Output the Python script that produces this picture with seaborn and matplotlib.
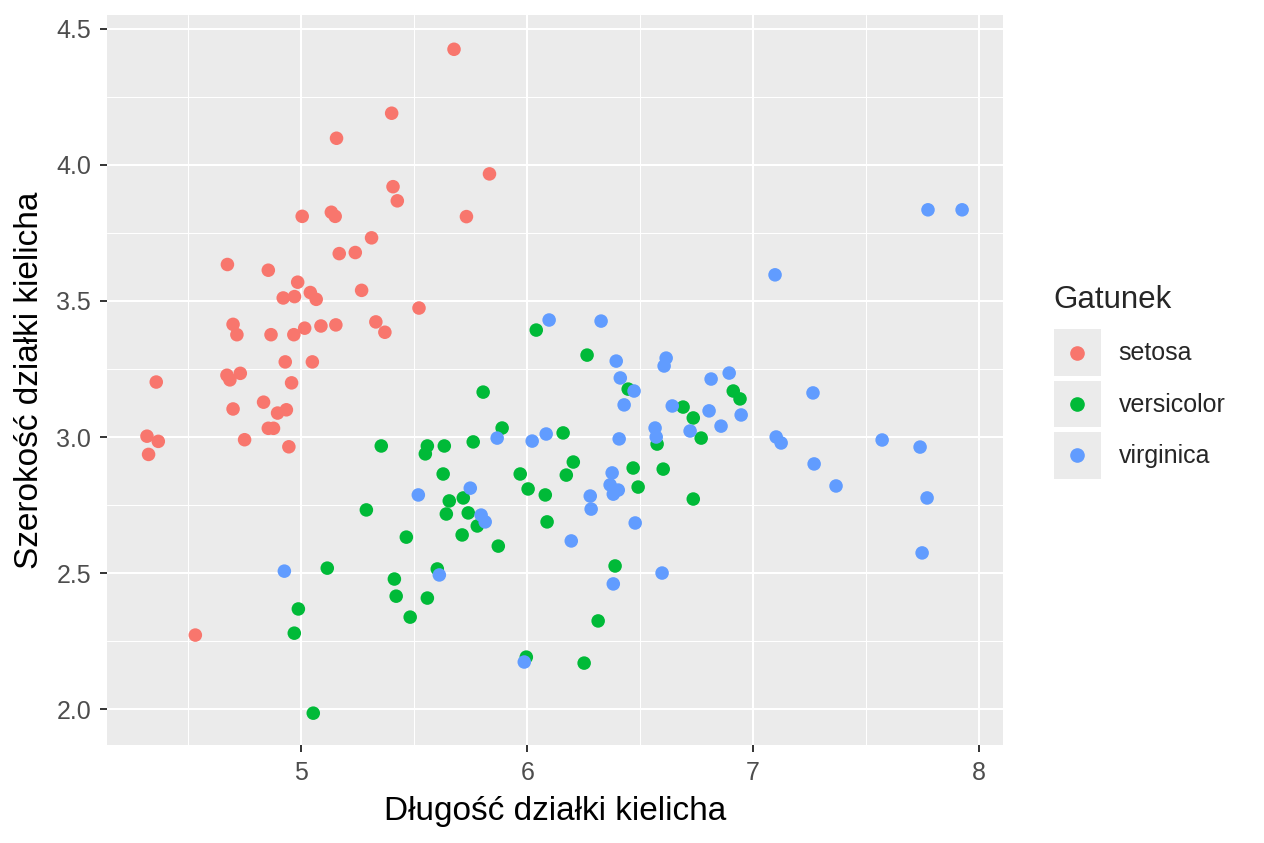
import numpy as np
import pandas as pd
import matplotlib
matplotlib.use("Agg")
import matplotlib.pyplot as plt
import seaborn as sns
from matplotlib.lines import Line2D
from matplotlib.patches import Rectangle
from matplotlib.legend_handler import HandlerBase
from matplotlib.ticker import MultipleLocator

# Values (jittered iris sepal data)
setosa_x = [5.676, 5.400, 5.156, 5.833, 5.406, 5.425, 5.004, 5.133, 5.150, 5.731,
            5.311, 5.168, 5.239, 4.673, 4.854, 4.984, 5.267, 4.920, 4.970, 5.040,
            5.066, 5.521, 4.698, 4.715, 4.866, 4.967, 5.015, 5.087, 5.153, 5.330,
            5.370, 4.929, 5.049, 4.358, 4.671, 4.730, 4.684, 4.957, 4.698, 4.833,
            4.895, 4.934, 4.854, 4.877, 4.317, 4.367, 4.324, 4.749, 4.945, 4.531]
setosa_y = [4.425, 4.190, 4.098, 3.967, 3.920, 3.868, 3.811, 3.826, 3.811, 3.810,
            3.732, 3.674, 3.678, 3.634, 3.613, 3.569, 3.539, 3.511, 3.516, 3.531,
            3.506, 3.474, 3.414, 3.376, 3.376, 3.376, 3.400, 3.408, 3.412, 3.423,
            3.385, 3.276, 3.276, 3.202, 3.227, 3.234, 3.210, 3.199, 3.103, 3.128,
            3.088, 3.100, 3.032, 3.032, 3.003, 2.984, 2.936, 2.990, 2.964, 2.272]

versicolor_x = [6.040, 6.265, 5.805, 6.447, 5.889, 6.159, 5.354, 5.558, 5.549, 5.633,
                5.761, 6.204, 6.469, 5.628, 5.969, 6.173, 6.004, 6.080, 6.491, 5.655,
                5.717, 5.288, 5.739, 5.642, 5.779, 5.712, 5.872, 5.465, 6.088, 6.389,
                5.115, 5.602, 5.412, 5.420, 5.558, 5.482, 4.987, 4.969, 6.314, 5.996,
                6.252, 5.053, 6.912, 6.942, 6.690, 6.735, 6.575, 6.770, 6.602, 6.735]
versicolor_y = [3.393, 3.301, 3.165, 3.176, 3.033, 3.015, 2.967, 2.967, 2.938, 2.967,
                2.982, 2.908, 2.886, 2.864, 2.864, 2.860, 2.809, 2.787, 2.816, 2.765,
                2.776, 2.732, 2.721, 2.717, 2.673, 2.640, 2.599, 2.632, 2.688, 2.526,
                2.518, 2.515, 2.478, 2.415, 2.408, 2.338, 2.368, 2.279, 2.324, 2.191,
                2.169, 1.985, 3.169, 3.140, 3.110, 3.070, 2.974, 2.996, 2.882, 2.772]

virginica_x = [6.097, 6.327, 6.394, 6.412, 6.473, 6.429, 5.867, 6.022, 6.084, 6.407,
               6.376, 6.367, 6.403, 6.381, 6.279, 6.283, 5.748, 5.518, 6.615, 6.606,
               6.894, 6.814, 7.265, 6.642, 6.805, 6.947, 6.858, 6.566, 6.571, 6.721,
               7.102, 7.124, 7.270, 7.367, 5.796, 5.814, 6.478, 6.195, 6.381, 6.597,
               4.925, 5.611, 5.987, 7.097, 7.774, 7.925, 7.571, 7.739, 7.770, 7.748]
virginica_y = [3.430, 3.426, 3.279, 3.217, 3.169, 3.118, 2.996, 2.985, 3.011, 2.993,
               2.868, 2.824, 2.805, 2.790, 2.783, 2.735, 2.812, 2.787, 3.290, 3.261,
               3.235, 3.213, 3.162, 3.114, 3.096, 3.081, 3.040, 3.033, 3.000, 3.022,
               3.000, 2.978, 2.901, 2.820, 2.713, 2.688, 2.684, 2.618, 2.460, 2.500,
               2.507, 2.493, 2.173, 3.596, 3.835, 3.835, 2.989, 2.963, 2.776, 2.574]

species = ["setosa", "versicolor", "virginica"]
colors = ["#F8766D", "#00BA38", "#619CFF"]

df = pd.concat([
    pd.DataFrame({"x": setosa_x, "y": setosa_y, "Gatunek": "setosa"}),
    pd.DataFrame({"x": versicolor_x, "y": versicolor_y, "Gatunek": "versicolor"}),
    pd.DataFrame({"x": virginica_x, "y": virginica_y, "Gatunek": "virginica"}),
])

sns.set_style("white")
plt.rcParams["font.family"] = ["Liberation Sans", "DejaVu Sans"]

fig = plt.figure(figsize=(12.64, 8.43), dpi=100)
ax = fig.add_axes([107 / 1264, 98 / 843, 896 / 1264, 730 / 843])
ax.set_facecolor("#EBEBEB")

sns.scatterplot(data=df, x="x", y="y", hue="Gatunek", hue_order=species,
                palette=colors, s=95, linewidth=0, alpha=1, ax=ax, legend=False,
                zorder=3)

ax.set_xlim(4.14, 8.106)
ax.set_ylim(1.868, 4.551)
ax.xaxis.set_minor_locator(MultipleLocator(0.5))
ax.yaxis.set_minor_locator(MultipleLocator(0.25))
ax.set_yticks([2.0, 2.5, 3.0, 3.5, 4.0, 4.5])
ax.set_yticklabels(["2.0", "2.5", "3.0", "3.5", "4.0", "4.5"])
ax.set_xticks([5, 6, 7, 8])
ax.set_xticklabels(["5", "6", "7", "8"])

ax.grid(which="major", color="white", linewidth=1.5)
ax.grid(which="minor", color="white", linewidth=0.75)
ax.set_axisbelow(True)
for sp in ax.spines.values():
    sp.set_visible(False)
ax.tick_params(which="major", length=5, width=1.4, color="#333333",
               labelsize=18, labelcolor="#4D4D4D", pad=6.5, bottom=True, left=True)
ax.tick_params(which="minor", length=0)

ax.set_xlabel("Długość działki kielicha", fontsize=24, color="black", labelpad=8)
ax.set_ylabel("Szerokość działki kielicha", fontsize=24, color="black", labelpad=8)


class KeyHandler(HandlerBase):
    def create_artists(self, legend, orig_handle, xdescent, ydescent, width,
                       height, fontsize, trans):
        bg = Rectangle((-xdescent, -ydescent), width, height,
                       facecolor="#EBEBEB", edgecolor="none", transform=trans)
        dot = Line2D([width / 2 - xdescent], [height / 2 - ydescent],
                     marker="o", markersize=9.5, linestyle="",
                     color=orig_handle.get_color(), transform=trans)
        return [bg, dot]


handles = [Line2D([], [], color=c) for c in colors]
leg = fig.legend(handles, species, title="Gatunek", loc="center left",
                 bbox_to_anchor=(1031 / 1264, 1 - 382 / 843), frameon=False,
                 fontsize=18, title_fontsize=22.5, handlelength=1.88,
                 handleheight=2.5, handletextpad=0.72, labelspacing=0.18,
                 handler_map={Line2D: KeyHandler()})
leg._legend_box.align = "left"
leg._legend_box.sep = 10

fig.savefig("out.png", dpi=100, facecolor="white")
